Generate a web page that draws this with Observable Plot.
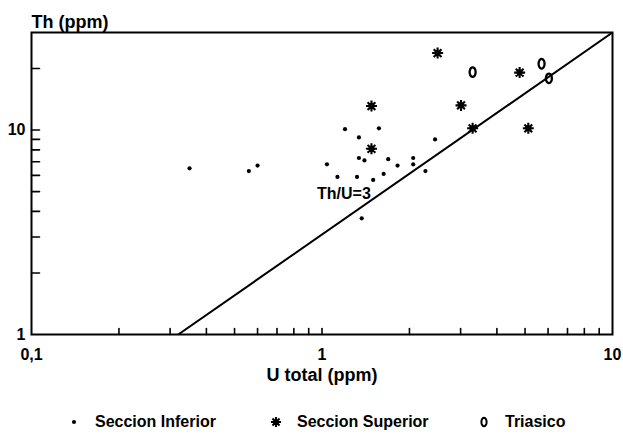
<!DOCTYPE html>
<html>
<head>
<meta charset="utf-8">
<script src="https://cdn.jsdelivr.net/npm/d3@7"></script>
<script src="https://cdn.jsdelivr.net/npm/@observablehq/plot@0.6"></script>
<style>
  html, body { margin: 0; padding: 0; background: #fff; }
  #wrap { position: relative; width: 623px; height: 437px; font-family: "Liberation Sans", Arial, sans-serif; }
  #legend { position: absolute; left: 0; top: 408px; width: 623px; height: 28px; font-size: 16px; font-weight: bold; color: #000; }
  .item { position: absolute; top: 0; display: flex; align-items: center; height: 28px; }
  .item svg { display: block; }
</style>
</head>
<body>
<div id="wrap">
  <div id="chart"></div>
  <div id="legend"></div>
</div>
<script>
// ---- Data ----
const seriesNames = ["Seccion Inferior", "Seccion Superior", "Triasico"];

// Seccion Inferior (small dots)
const inferiorU  = [0.35, 0.56, 0.60, 1.20, 1.57, 1.34, 2.45, 1.04, 1.34, 1.40, 1.69, 1.82, 2.06, 2.06, 2.27, 1.13, 1.32, 1.50, 1.63, 1.37];
const inferiorTh = [6.5, 6.3, 6.7, 10.1, 10.2, 9.2, 9.0, 6.8, 7.3, 7.1, 7.2, 6.7, 7.3, 6.8, 6.3, 5.9, 5.9, 5.7, 6.1, 3.7];

// Seccion Superior (asterisks)
const superiorU  = [2.50, 1.48, 3.01, 4.79, 3.30, 5.13, 1.48];
const superiorTh = [23.8, 13.1, 13.2, 19.1, 10.2, 10.2, 8.1];

// Triasico (open ovals)
const triasicoU  = [3.30, 5.70, 6.04];
const triasicoTh = [19.2, 21.1, 17.9];

// Th/U = 3 reference line
const ratioU  = [0.32, 10];
const ratioTh = [1, 30];
const ratioLabel = "Th/U=3";
const ratioLabelU = 1.19, ratioLabelTh = 4.9;

// Axes
const xDomain = [0.1, 10];
const yDomain = [1, 30];
const xLabels = [0.1, 1, 10];
const yLabels = [1, 10];
const xMinor = [0.2, 0.3, 0.4, 0.5, 0.6, 0.7, 0.8, 0.9, 1, 2, 3, 4, 5, 6, 7, 8, 9];
const yMinor = [2, 3, 4, 5, 6, 7, 8, 9, 10, 20];
const xTitle = "U total (ppm)";
const yTitle = "Th (ppm)";

// ---- Symbols ----
const asteriskSymbol = {
  draw(ctx, size) {
    const r = Math.sqrt(size / Math.PI);
    for (let k = 0; k < 4; k++) {
      const a = k * Math.PI / 4;
      const dx = r * Math.cos(a), dy = r * Math.sin(a);
      ctx.moveTo(-dx, -dy); ctx.lineTo(dx, dy);
    }
    const c = r * 0.42;
    ctx.moveTo(c, 0);
    ctx.arc(0, 0, c, 0, 2 * Math.PI);
  }
};
const ovalSymbol = {
  draw(ctx, size) {
    const r = Math.sqrt(size / Math.PI);
    const rx = r * 0.62, ry = r;
    const n = 24;
    for (let i = 0; i <= n; i++) {
      const t = i / n * 2 * Math.PI;
      const x = rx * Math.sin(t), y = -ry * Math.cos(t);
      if (i === 0) ctx.moveTo(x, y); else ctx.lineTo(x, y);
    }
    ctx.closePath();
  }
};
const tickShape = {draw(ctx, l) { ctx.moveTo(0, 0); ctx.lineTo(0, -l); }};

const inferior = inferiorU.map((u, i) => ({u, th: inferiorTh[i]}));
const superior = superiorU.map((u, i) => ({u, th: superiorTh[i]}));
const triasico = triasicoU.map((u, i) => ({u, th: triasicoTh[i]}));
const ratio = ratioU.map((u, i) => ({u, th: ratioTh[i]}));
const xMinorRows = xMinor.map(v => ({u: v, th: yDomain[0]}));
const yMinorRows = yMinor.map(v => ({u: xDomain[0], th: v}));

const fmt = d => String(d).replace(".", ",");

const chart = Plot.plot({
  width: 623,
  height: 400,
  marginLeft: 31,
  marginRight: 11,
  marginTop: 32,
  marginBottom: 66,
  style: {fontFamily: "'Liberation Sans', Arial, sans-serif", color: "#000", background: "#fff"},
  x: {type: "log", domain: xDomain},
  y: {type: "log", domain: yDomain},
  marks: [
    Plot.frame({stroke: "#000", strokeWidth: 2}),
    // minor inward ticks (vectors anchored on the frame edges)
    Plot.vector(xMinorRows, {x: "u", y: "th", length: 6, rotate: 0, anchor: "start", stroke: "#000", strokeWidth: 1.6, shape: tickShape}),
    Plot.vector(yMinorRows, {x: "u", y: "th", length: 8, rotate: 90, anchor: "start", stroke: "#000", strokeWidth: 1.6, shape: tickShape}),
    // labels
    Plot.axisX({ticks: xLabels, tickSize: 0, tickPadding: 14, tickFormat: fmt, label: null, fontSize: 16, fontWeight: "bold"}),
    Plot.axisY({ticks: yLabels, tickSize: 0, tickPadding: 6, tickFormat: fmt, label: null, fontSize: 16, fontWeight: "bold"}),
    // ratio line
    Plot.line(ratio, {x: "u", y: "th", stroke: "#000", strokeWidth: 2, clip: true}),
    Plot.text([ratioLabel], {x: () => ratioLabelU, y: () => ratioLabelTh, text: d => d, fontSize: 16, fontWeight: "bold", fill: "#000"}),
    // series
    Plot.dot(inferior, {x: "u", y: "th", r: 2.1, fill: "#000", stroke: "none"}),
    Plot.dot(superior, {x: "u", y: "th", r: 5.5, symbol: asteriskSymbol, stroke: "#000", strokeWidth: 2.1, fill: "#000"}),
    Plot.dot(triasico, {x: "u", y: "th", r: 4.8, symbol: ovalSymbol, stroke: "#000", strokeWidth: 2.3, fill: "none"}),
    // titles
    Plot.text([yTitle], {frameAnchor: "top-left", text: d => d, dy: -17, textAnchor: "start", fontSize: 18, fontWeight: "bold", fill: "#000"}),
    Plot.text([xTitle], {frameAnchor: "bottom", text: d => d, dy: 46, fontSize: 18, fontWeight: "bold", fill: "#000"})
  ]
});
document.getElementById("chart").appendChild(chart);

// ---- Legend ----
const legend = document.getElementById("legend");
const legendLeft = [66, 268, 476];
function symbolPath(sym, r) {
  const p = d3.path();
  sym.draw(p, r * r * Math.PI);
  return p.toString();
}
const legendSymbols = [
  '<circle cx="8" cy="8" r="2.1" fill="#000"/>',
  `<path transform="translate(8,8)" d="${symbolPath(asteriskSymbol, 5)}" stroke="#000" stroke-width="2" fill="#000"/>`,
  `<path transform="translate(8,8)" d="${symbolPath(ovalSymbol, 4.2)}" stroke="#000" stroke-width="2" fill="none"/>`
];
seriesNames.forEach((name, i) => {
  const el = document.createElement("div");
  el.className = "item";
  el.style.left = legendLeft[i] + "px";
  el.innerHTML = `<svg width="16" height="16" style="margin-right:13px">${legendSymbols[i]}</svg><span>${name}</span>`;
  legend.appendChild(el);
});
</script>
</body>
</html>
